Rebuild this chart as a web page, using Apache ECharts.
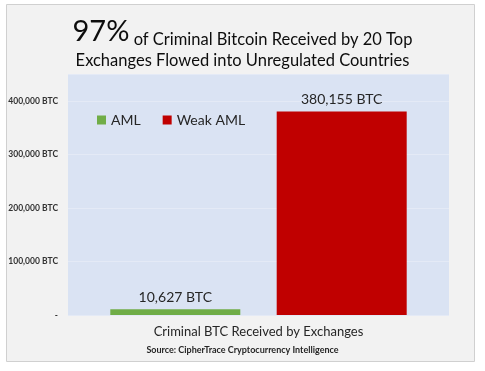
<!DOCTYPE html>
<html><head><meta charset="utf-8">
<script src="https://cdn.jsdelivr.net/npm/echarts@6/dist/echarts.min.js"></script>
<style>html,body{margin:0;padding:0;background:#fff}#c{width:485px;height:371px}</style>
</head><body><div id="c"></div>
<script>
const categories = ['Criminal BTC Received by Exchanges'];
const seriesNames = ['AML', 'Weak AML'];
const amlValues = [10627];
const weakAmlValues = [380155];
const yTicks = [0, 100000, 200000, 300000, 400000];

const fmt = v => v === 0 ? '-' : v.toLocaleString('en-US') + ' BTC';
const FONT = 'Lato';
const chart = echarts.init(document.getElementById('c'));
chart.setOption({
  backgroundColor: '#ffffff',
  animation: false,
  graphic: [
    { type: 'rect', z: -10, shape: { x: 6.5, y: 4.5, width: 468, height: 357 },
      style: { fill: '#f2f2f2', stroke: '#d0d0d0', lineWidth: 1 } },
    { type: 'text', left: 'center', top: 346,
      style: { text: 'Source: CipherTrace Cryptocurrency Intelligence', font: 'bold 9px ' + FONT, fill: '#262626' } }
  ],
  title: {
    text: '{a|97%}{b| of Criminal Bitcoin Received by 20 Top}\n{c|Exchanges Flowed into Unregulated Countries}',
    left: 'center', top: 11,
    textStyle: {
      fontWeight: 'normal',
      rich: {
        a: { fontFamily: FONT, fontSize: 29, fontWeight: 'normal', color: '#0d0d0d', lineHeight: 32 },
        b: { fontFamily: FONT, fontSize: 16.5, fontWeight: 'normal', color: '#0d0d0d', lineHeight: 32, verticalAlign: 'bottom' },
        c: { fontFamily: FONT, fontSize: 16.5, fontWeight: 'normal', color: '#0d0d0d', lineHeight: 25 }
      }
    }
  },
  legend: {
    left: 92, top: 108, itemWidth: 9, itemHeight: 9, itemGap: 22,
    icon: 'rect',
    textStyle: { fontFamily: FONT, fontSize: 14, color: '#262626' },
    data: seriesNames
  },
  grid: {
    left: 68, right: 36, top: 74, bottom: 56, show: true,
    backgroundColor: '#dae3f3', borderWidth: 0
  },
  xAxis: {
    type: 'category', data: categories,
    axisLine: { show: false }, axisTick: { show: false },
    axisLabel: { fontFamily: FONT, fontSize: 13, color: '#262626', margin: 10 }
  },
  yAxis: {
    type: 'value', min: 0, max: 450000, interval: 100000,
    axisLine: { show: false }, axisTick: { show: false },
    splitLine: { lineStyle: { color: '#e4eaf6', width: 1 } },
    axisLabel: {
      showMaxLabel: false,
      fontFamily: FONT, fontSize: 8.5, fontWeight: 'bold', color: '#333333', margin: 10,
      formatter: v => yTicks.includes(v) ? fmt(v) : ''
    }
  },
  series: [
    { name: seriesNames[0], type: 'bar', data: amlValues, barWidth: 130, barGap: '28%',
      itemStyle: { color: '#70ad47' },
      label: { show: true, position: 'top', formatter: p => p.value.toLocaleString('en-US') + ' BTC',
        fontFamily: FONT, fontSize: 14, color: '#262626', distance: 5 } },
    { name: seriesNames[1], type: 'bar', data: weakAmlValues, barWidth: 130,
      itemStyle: { color: '#c00000' },
      label: { show: true, position: 'top', formatter: p => p.value.toLocaleString('en-US') + ' BTC',
        fontFamily: FONT, fontSize: 14, color: '#262626', distance: 5 } }
  ]
});
</script></body></html>
